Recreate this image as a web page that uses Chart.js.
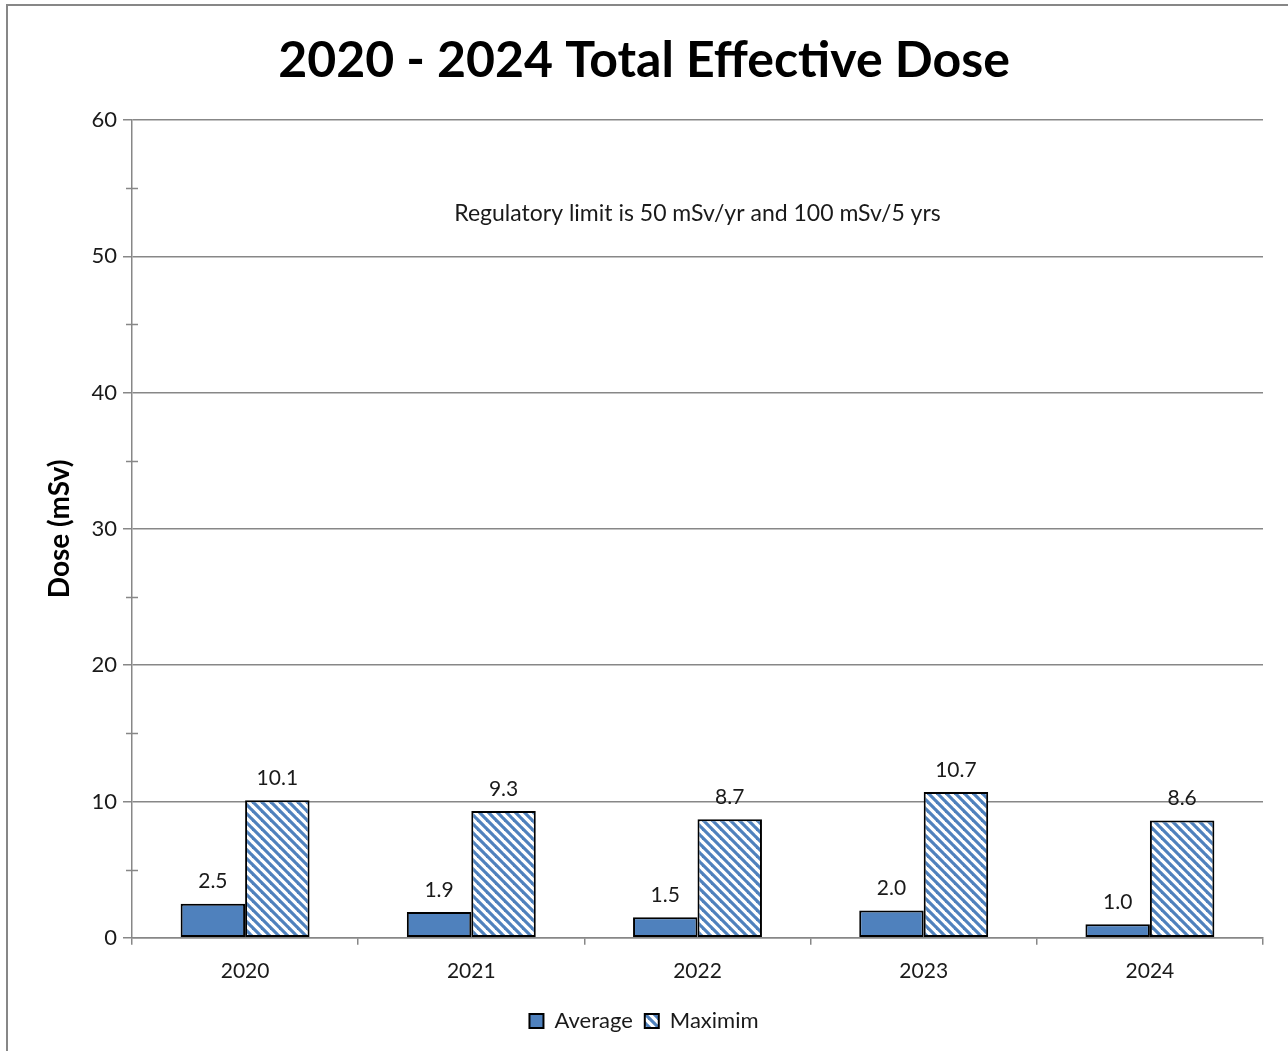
<!DOCTYPE html>
<html>
<head>
<meta charset="utf-8">
<script src="https://cdn.jsdelivr.net/npm/chart.js@4"></script>
<style>
html,body{margin:0;padding:0;background:#fff;}
#wrap{width:1288px;height:1051px;position:relative;}
</style>
</head>
<body>
<div id="wrap"><canvas id="c" width="1288" height="1051"></canvas></div>
<script>
const categories = ['2020', '2021', '2022', '2023', '2024'];
const averageDose = [2.5, 1.9, 1.5, 2.0, 1.0];
const maximumDose = [10.1, 9.3, 8.7, 10.7, 8.6];
const seriesNames = ['Average', 'Maximim'];
const yTicks = [0, 10, 20, 30, 40, 50, 60];
const minorTicks = [5, 15, 25, 35, 45, 55];
const titleText = '2020 - 2024 Total Effective Dose';
const yTitle = 'Dose (mSv)';
const noteText = 'Regulatory limit is 50 mSv/yr and 100 mSv/5 yrs';

const BLUE = '#4F81BD';
const GRID = '#878787';
const FONT = 'Lato, "Open Sans", sans-serif';

const ctx = document.getElementById('c').getContext('2d');
const hatch = ctx.createPattern((function(){
  const s = 9;
  const t = document.createElement('canvas');
  t.width = s; t.height = s;
  const g = t.getContext('2d');
  g.fillStyle = '#fff';
  g.fillRect(0, 0, s, s);
  g.strokeStyle = BLUE;
  g.lineWidth = 3.2;
  for (const k of [-s, 0, s]) {
    g.beginPath();
    g.moveTo(k - 2, -2);
    g.lineTo(k + s + 2, s + 2);
    g.stroke();
  }
  return t;
})(), 'repeat');

const outerBorder = {
  id: 'outerBorder',
  beforeDraw(chart) {
    const c = chart.ctx;
    c.save();
    c.fillStyle = '#fff';
    c.fillRect(0, 0, chart.width, chart.height);
    c.strokeStyle = '#878787';
    c.lineWidth = 2;
    c.strokeRect(7, 5, 1290, 1060);
    c.restore();
  }
};

const extras = {
  id: 'extras',
  afterDraw(chart) {
    const c = chart.ctx;
    const y = chart.scales.y;
    const x0 = y.right;
    c.save();
    c.strokeStyle = GRID;
    c.lineWidth = 1.5;
    minorTicks.forEach(v => {
      const py = Math.round(y.getPixelForValue(v)) + 0.5;
      c.beginPath();
      c.moveTo(x0 - 6, py);
      c.lineTo(x0 + 6, py);
      c.stroke();
    });
    c.fillStyle = '#1a1a1a';
    c.font = '23px ' + FONT;
    c.textAlign = 'center';
    c.textBaseline = 'middle';
    const ca = chart.chartArea;
    c.fillText(noteText, (ca.left + ca.right) / 2, y.getPixelForValue(53.1));
    c.font = '21px ' + FONT;
    chart.data.datasets.forEach((ds, i) => {
      const meta = chart.getDatasetMeta(i);
      meta.data.forEach((bar, j) => {
        c.fillText(ds.data[j].toFixed(1), bar.x, bar.y - 22);
      });
    });
    c.restore();
  }
};

new Chart(ctx, {
  type: 'bar',
  data: {
    labels: categories,
    datasets: [
      {
        label: seriesNames[0],
        data: averageDose,
        backgroundColor: BLUE,
        borderColor: '#000',
        borderWidth: 2,
        borderSkipped: false,
        categoryPercentage: 0.57,
        barPercentage: 1.0
      },
      {
        label: seriesNames[1],
        data: maximumDose,
        backgroundColor: hatch,
        borderColor: '#000',
        borderWidth: 2,
        borderSkipped: false,
        categoryPercentage: 0.57,
        barPercentage: 1.0
      }
    ]
  },
  options: {
    responsive: false,
    animation: false,
    devicePixelRatio: 1,
    layout: { padding: { left: 25, right: 25, top: 0, bottom: 9 } },
    plugins: {
      tooltip: { enabled: false },
      title: {
        display: true,
        text: titleText,
        color: '#000',
        font: { family: FONT, size: 50, weight: 'bold' },
        padding: { top: 31, bottom: 29 }
      },
      legend: {
        display: true,
        position: 'bottom',
        labels: {
          boxWidth: 14,
          boxHeight: 14,
          color: '#1a1a1a',
          font: { family: FONT, size: 22 },
          padding: 12
        }
      }
    },
    scales: {
      x: {
        grid: {
          display: true,
          drawOnChartArea: false,
          drawTicks: true,
          tickLength: 7,
          color: GRID,
          lineWidth: 1.5,
          offset: true
        },
        border: { color: GRID, width: 1.5 },
        ticks: {
          color: '#1a1a1a',
          font: { family: FONT, size: 21 },
          padding: 14
        }
      },
      y: {
        min: 0,
        max: 60,
        afterFit(scale) { scale.width = 107; },
        afterBuildTicks(scale) { scale.ticks = yTicks.map(v => ({ value: v })); },
        grid: {
          color: GRID,
          lineWidth: 1.5,
          tickLength: 9,
          drawTicks: true
        },
        border: { color: GRID, width: 1.5 },
        ticks: {
          color: '#1a1a1a',
          font: { family: FONT, size: 22 },
          padding: 6
        },
        title: {
          display: true,
          text: yTitle,
          color: '#000',
          font: { family: FONT, size: 28, weight: 'bold' },
          padding: { top: 18, bottom: 0 }
        }
      }
    }
  },
  plugins: [outerBorder, extras]
});
</script>
</body>
</html>
